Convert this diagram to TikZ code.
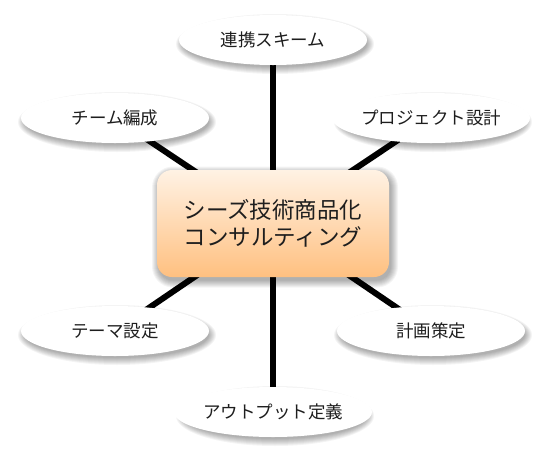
\documentclass[tikz,border=0pt]{standalone}
\usepackage{fontspec}
\newfontfamily\jp{Noto Sans CJK JP}
\usetikzlibrary{shapes.geometric}
\definecolor{boxtop}{RGB}{255,242,228}
\definecolor{boxbot}{RGB}{255,192,128}
\definecolor{txt}{RGB}{30,30,30}
\pgfdeclarelayer{back}
\pgfdeclarelayer{bg}
\pgfdeclarelayer{shad}
\pgfsetlayers{back,bg,shad,main}
\tikzset{
  leaf/.style={ellipse, fill=white, draw=none, minimum width=188pt, minimum height=50pt, inner sep=0pt,
    font=\jp\fontsize{17.5}{19}\selectfont, text=txt},
  hub/.style={rectangle, rounded corners=15pt, minimum width=232pt, minimum height=107pt, inner sep=0pt,
    top color=boxtop, bottom color=boxbot, draw=none, align=center, text=txt,
    font=\jp\fontsize{22.5}{27}\selectfont},
  softshadow/.style={fill=black, fill opacity=0.045},
  spoke/.style={line width=6pt, black}
}
\begin{document}
\begin{tikzpicture}[x=1pt,y=-1pt]
\begin{pgfonlayer}{back}
\fill[white] (0,0) rectangle (546,467);
\end{pgfonlayer}
\useasboundingbox (0,0) rectangle (546,467);
\node[hub] (c) at (273,223.5) {シーズ技術商品化\\コンサルティング};
\node[leaf] (n1) at (273,40) {連携スキーム};
\node[leaf] (n2) at (115,118) {チーム編成};
\node[leaf] (n3) at (431,118) {プロジェクト設計};
\node[leaf] (n4) at (115,331) {テーマ設定};
\node[leaf] (n5) at (431,331) {計画策定};
\node[leaf] (n6) at (273,412) {アウトプット定義};
\begin{pgfonlayer}{shad}
\foreach \n in {n1,n2,n3,n4,n5,n6}
  \foreach \i in {0,1,...,7}
    \fill[softshadow, shift={(\n.center)}] (2,4) ellipse [x radius={92+\i}, y radius={23+\i}];
\foreach \i in {0,1,...,7}
  \fill[softshadow, shift={(c.center)}, rounded corners={14pt+\i pt}]
    ({-114-\i},{-50-\i}) rectangle ({118+\i},{57+\i});
\end{pgfonlayer}
\begin{pgfonlayer}{bg}
\foreach \n in {n1,n2,n3,n4,n5,n6}
  \draw[spoke] (c.center) -- (\n.center);
\end{pgfonlayer}
\end{tikzpicture}
\end{document}
